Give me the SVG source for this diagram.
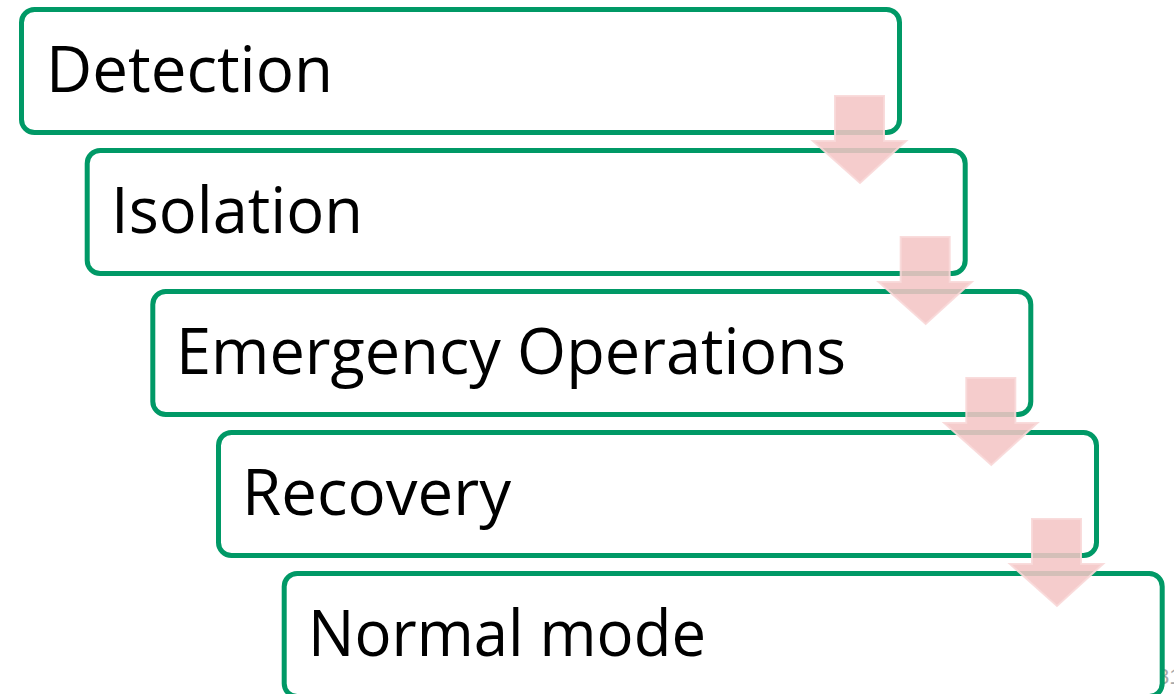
<svg xmlns="http://www.w3.org/2000/svg" width="1174" height="694" viewBox="0 0 1174 694">
  <style>
    .box { fill: #ffffff; stroke: #009966; stroke-width: 5; }
    .label { font-family: "Open Sans", "DejaVu Sans", sans-serif; font-size: 64px; fill: #000000; }
    .step { fill: #f4c4c4; fill-opacity: 0.87; stroke: #f8d8d8; stroke-width: 2; stroke-opacity: 0.9; }
    .pageno { font-family: "Liberation Sans", sans-serif; font-size: 22px; fill: #a8a8a8; }
  </style>
  <defs>
    <!-- down arrow between steps, origin at the top-left of its shaft -->
    <path id="down" d="M0,0 H49 V45 H71 L25,87 L-22,45 H0 Z"/>
  </defs>

  <text class="pageno" x="1157" y="684">31</text>

  <g id="detection">
    <rect class="box" x="21.5" y="9.5" width="878" height="123" rx="13"/>
    <text class="label" x="46" y="92" textLength="287" lengthAdjust="spacingAndGlyphs">Detection</text>
  </g>
  <g id="isolation">
    <rect class="box" x="87.2" y="150.5" width="878" height="123" rx="13"/>
    <text class="label" x="111" y="233" textLength="252" lengthAdjust="spacingAndGlyphs">Isolation</text>
  </g>
  <g id="emergency-operations">
    <rect class="box" x="152.8" y="291.5" width="878" height="123" rx="13"/>
    <text class="label" x="176" y="374" textLength="670" lengthAdjust="spacingAndGlyphs">Emergency Operations</text>
  </g>
  <g id="recovery">
    <rect class="box" x="218.5" y="432.5" width="878" height="123" rx="13"/>
    <text class="label" x="242" y="515" textLength="269" lengthAdjust="spacingAndGlyphs">Recovery</text>
  </g>
  <g id="normal-mode">
    <rect class="box" x="284.2" y="573.5" width="878" height="123" rx="13"/>
    <text class="label" x="308" y="656" textLength="398" lengthAdjust="spacingAndGlyphs">Normal mode</text>
  </g>

  <g id="connectors">
    <use href="#down" class="step" x="835" y="96"/>
    <use href="#down" class="step" x="900.7" y="237"/>
    <use href="#down" class="step" x="966.3" y="378"/>
    <use href="#down" class="step" x="1032" y="519"/>
  </g>
</svg>
